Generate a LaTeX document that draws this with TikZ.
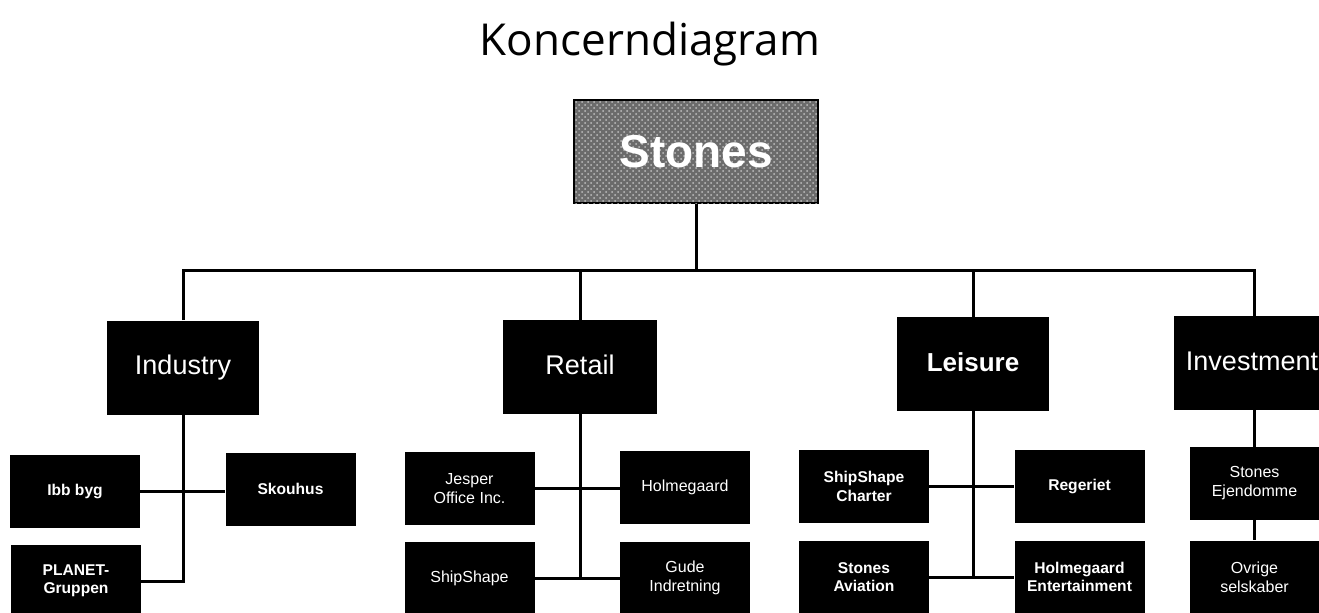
\documentclass[tikz,border=0pt]{standalone}
\usepackage{fontspec}
\setmainfont{Liberation Sans}
\newfontfamily\titlefont{Open Sans}
\usetikzlibrary{patterns}
\begin{document}
\begin{tikzpicture}[x=0.5pt,y=-0.5pt,
  conn/.style={line width=1.5pt},
  blk/.style={fill=black,text=white,inner sep=0pt,align=center},
  big/.style={blk,minimum width=76pt,minimum height=47pt,text height=10pt,text depth=3pt,font=\fontsize{13.5}{15}\selectfont},
  bigb/.style={big,font=\fontsize{13}{15}\bfseries\selectfont},
  small/.style={blk,minimum width=65pt,minimum height=36.5pt,font=\fontsize{8}{9.5}\selectfont},
  smallb/.style={small,font=\fontsize{7.8}{9.2}\bfseries\selectfont}]
\useasboundingbox (0,0) rectangle (1319,612);
\clip (0,0) rectangle (1319,612);
\fill[white] (0,0) rectangle (1319,612);
% title
\node[anchor=base,inner sep=0pt,font=\titlefont\fontsize{22}{26}\selectfont] (title) at (650,55) {Koncerndiagram};
% top
\node[draw=black,line width=1.2pt,fill=black!58,postaction={pattern=crosshatch dots,pattern color=black!25},
  minimum width=122pt,minimum height=51.5pt,inner sep=0pt,text=white,
  font=\fontsize{23}{26}\bfseries\selectfont] (stones) at (696,151.5) {Stones};
\coordinate (bus) at (696,270);
% divisions
\node[big] (ind) at (183,367.5) {Industry};
\node[big,minimum width=77pt] (ret) at (580,367) {Retail};
\node[bigb] (lei) at (973,364) {Leisure};
\node[big,minimum width=78pt] (inv) at (1252,363) {Investment};
% industry children
\node[smallb] (ibb) at (75,491) {Ibb byg};
\node[smallb] (sko) at (290.5,489) {Skouhus};
\node[smallb] (planet) at (76,581) {PLANET-\\Gruppen};
% retail children
\node[small] (jes) at (469.5,488.5) {Jesper\\Office Inc.};
\node[small] (hol) at (685,487.5) {Holmegaard};
\node[small] (ship) at (469.5,578) {ShipShape};
\node[small] (gude) at (685,578) {Gude\\Indretning};
% leisure children
\node[smallb] (shc) at (864,486.5) {ShipShape\\Charter};
\node[smallb] (reg) at (1079.5,486.5) {Regeriet};
\node[smallb] (sta) at (864,577) {Stones\\Aviation};
\node[smallb] (hole) at (1079.5,577) {Holmegaard\\Entertainment};
% investment children
\node[small] (sej) at (1254.5,483.5) {Stones\\Ejendomme};
\node[small] (ovr) at (1254.5,577) {Ovrige\\selskaber};
% connectors
\draw[conn] (stones.south) -- (bus);
\draw[conn] (ind.north) |- (bus);
\draw[conn] (bus) -| (sej.north |- inv.north);
\draw[conn] (ret.north) -- (ret.north |- bus);
\draw[conn] (lei.north) -- (lei.north |- bus);
\draw[conn] (ind.south) |- (planet.east);
\draw[conn] (ibb.east) -- (ibb.east -| sko.west);
\draw[conn] (ret.south) -- (ret.south |- ship.east);
\draw[conn] (jes.east) -- (jes.east -| hol.west);
\draw[conn] (ship.east) -- (gude.west);
\draw[conn] (lei.south) -- (lei.south |- sta.east);
\draw[conn] (shc.east) -- (reg.west);
\draw[conn] (sta.east) -- (hole.west);
\draw[conn] (sej.north |- inv.south) -- (sej.north);
\draw[conn] (sej.south) -- (ovr.north);
\end{tikzpicture}
\end{document}
